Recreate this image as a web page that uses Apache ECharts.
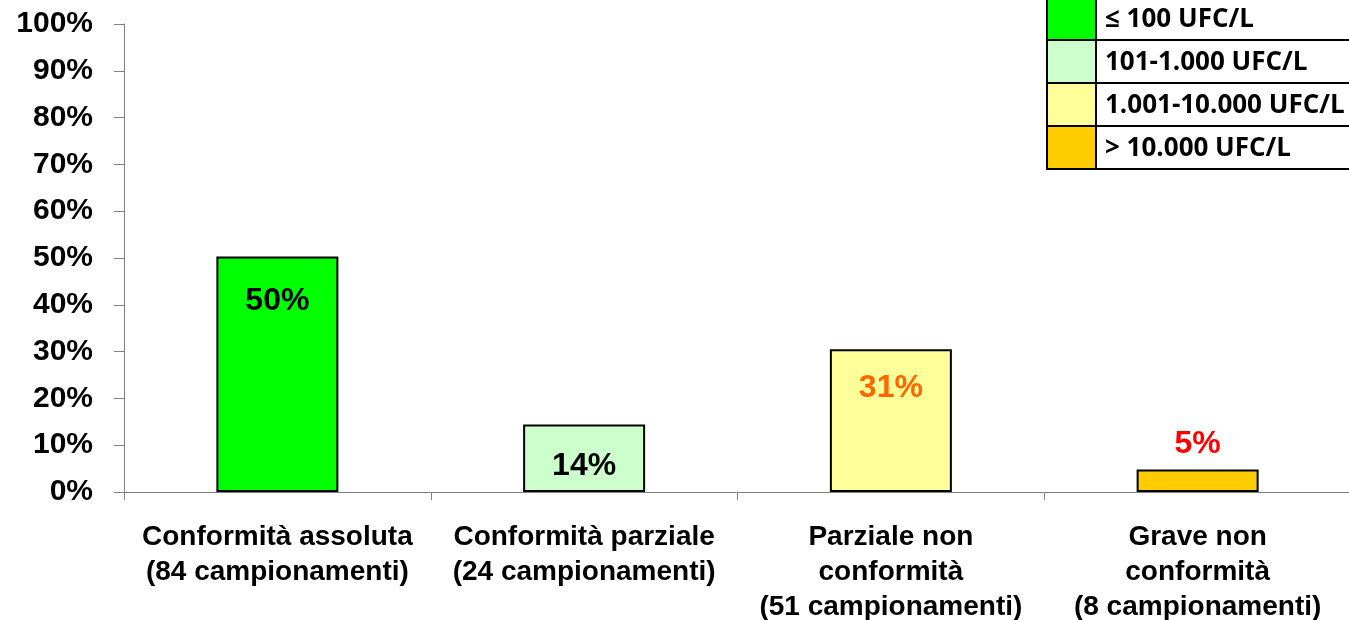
<!DOCTYPE html>
<html>
<head>
<meta charset="utf-8">
<script src="https://cdn.jsdelivr.net/npm/echarts@6/dist/echarts.min.js"></script>
<style>
  html, body { margin: 0; padding: 0; background: #fff; }
  #chart { width: 1349px; height: 620px; }
</style>
</head>
<body>
<div id="chart"></div>
<script>
// categories (x axis), two/three line labels as in the original
const categories = [
  'Conformità assoluta\n(84 campionamenti)',
  'Conformità parziale\n(24 campionamenti)',
  'Parziale non\nconformità\n(51 campionamenti)',
  'Grave non\nconformità\n(8 campionamenti)'
]
// percent of samples per class
const values = [50.3, 14.4, 30.5, 4.8]
const valueLabels = ['50%', '14%', '31%', '5%']
const barColors = ['#00FF00', '#CCFFCC', '#FFFF99', '#FFCC00']
const labelColors = ['#000000', '#000000', '#FF6600', '#FF0000']
const labelPositions = ['insideTop', 'insideTop', 'insideTop', 'top']
const labelDistances = [29, 26, 23, 9]

// legend table
const legendNames = ['≤ 100 UFC/L', '101-1.000 UFC/L', '1.001-10.000 UFC/L', '> 10.000 UFC/L']

const font = '"Liberation Sans", Arial, sans-serif'

const seriesData = values.map((v, i) => ({
  value: v,
  itemStyle: { color: barColors[i] },
  label: {
    position: labelPositions[i],
    distance: labelDistances[i],
    color: labelColors[i],
    formatter: valueLabels[i]
  }
}))

// legend drawn as a bordered table at top right
const legendLeft = 1047, legendTop = -3, rowH = 43, swatchW = 49, tableW = 310
let legendGraphics = []
legendNames.forEach((name, i) => {
  const y = legendTop + i * rowH
  legendGraphics.push({
    type: 'rect',
    shape: { x: legendLeft, y: y, width: swatchW, height: rowH },
    style: { fill: barColors[i], stroke: '#000', lineWidth: 2 }
  })
  legendGraphics.push({
    type: 'rect',
    shape: { x: legendLeft + swatchW, y: y, width: tableW - swatchW, height: rowH },
    style: { fill: '#fff', stroke: '#000', lineWidth: 2 }
  })
  legendGraphics.push({
    type: 'text',
    x: legendLeft + swatchW + 9,
    y: y + rowH / 2 + 1,
    style: {
      text: name,
      fill: '#000',
      font: 'bold 26px "Open Sans", sans-serif',
      verticalAlign: 'middle'
    }
  })
})

const option = {
  animation: false,
  backgroundColor: '#fff',
  grid: { left: 124, top: 24, bottom: 128, width: 1227, outerBoundsMode: 'none', containLabel: false },
  xAxis: {
    type: 'category',
    data: categories,
    axisLine: { lineStyle: { color: '#808080', width: 1 } },
    axisTick: { show: true, length: 8, lineStyle: { color: '#808080' } },
    axisLabel: {
      interval: 0,
      margin: 28,
      color: '#000',
      fontFamily: font,
      fontWeight: 'bold',
      fontSize: 28,
      lineHeight: 35,
      align: 'center'
    }
  },
  yAxis: {
    type: 'value',
    min: 0,
    max: 100,
    interval: 10,
    splitLine: { show: false },
    axisLine: { show: true, lineStyle: { color: '#808080', width: 1 } },
    axisTick: { show: true, length: 10, lineStyle: { color: '#808080' } },
    axisLabel: {
      formatter: '{value}%',
      margin: 31,
      color: '#000',
      fontFamily: font,
      fontWeight: 'bold',
      fontSize: 30
    }
  },
  series: [
    {
      type: 'bar',
      barWidth: 122,
      data: seriesData,
      itemStyle: { borderColor: '#000', borderWidth: 2 },
      label: {
        show: true,
        fontFamily: font,
        fontWeight: 'bold',
        fontSize: 32
      }
    }
  ],
  graphic: legendGraphics
}

let chart = echarts.init(document.getElementById('chart'))
chart.setOption(option)
</script>
</body>
</html>
